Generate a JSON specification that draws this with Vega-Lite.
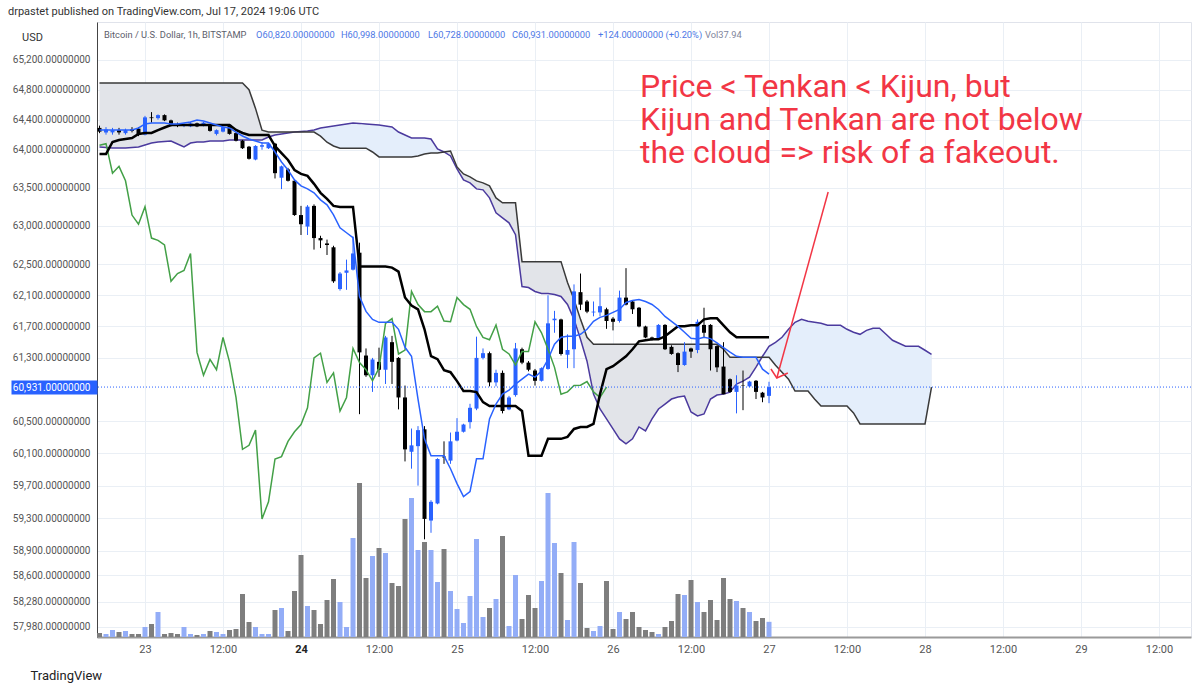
{
  "$schema": "https://vega.github.io/schema/vega-lite/v6.json",
  "width": 1094,
  "height": 615,
  "autosize": {"type": "none"},
  "padding": {"left": 97, "top": 22, "right": 9, "bottom": 52},
  "background": "white",
  "title": {
    "text": "drpastet published on TradingView.com, Jul 17, 2024 19:06 UTC",
    "anchor": "start",
    "frame": "group",
    "dx": -89,
    "offset": 5,
    "fontSize": 11,
    "fontWeight": "normal",
    "color": "#333333",
    "font": "Roboto"
  },
  "config": {"view": {"stroke": "#e0e3eb"}, "font": "Roboto"},
  "datasets": {
    "candles": [
      {"h":-7,"o":64290,"hi":64320,"lo":64220,"c":64240,"v":10},
      {"h":-6,"o":64230,"hi":64300,"lo":64200,"c":64270,"v":7.5},
      {"h":-5,"o":64230,"hi":64290,"lo":64200,"c":64260,"v":17.5},
      {"h":-4,"o":64260,"hi":64290,"lo":64200,"c":64230,"v":12.5},
      {"h":-3,"o":64220,"hi":64280,"lo":64200,"c":64260,"v":15},
      {"h":-2,"o":64270,"hi":64300,"lo":64230,"c":64250,"v":7.5},
      {"h":-1,"o":64280,"hi":64300,"lo":64180,"c":64200,"v":7.5},
      {"h":0,"o":64200,"hi":64450,"lo":64190,"c":64430,"v":25},
      {"h":1,"o":64430,"hi":64500,"lo":64360,"c":64420,"v":32.5},
      {"h":2,"o":64420,"hi":64470,"lo":64400,"c":64460,"v":62.5},
      {"h":3,"o":64460,"hi":64470,"lo":64380,"c":64390,"v":7.5},
      {"h":4,"o":64390,"hi":64400,"lo":64310,"c":64320,"v":10},
      {"h":5,"o":64340,"hi":64360,"lo":64300,"c":64320,"v":7.5},
      {"h":6,"o":64320,"hi":64350,"lo":64300,"c":64340,"v":25},
      {"h":7,"o":64310,"hi":64370,"lo":64300,"c":64350,"v":7.5},
      {"h":8,"o":64350,"hi":64360,"lo":64300,"c":64310,"v":5},
      {"h":9,"o":64320,"hi":64370,"lo":64310,"c":64360,"v":7.5},
      {"h":10,"o":64320,"hi":64340,"lo":64240,"c":64250,"v":15},
      {"h":11,"o":64210,"hi":64270,"lo":64190,"c":64260,"v":12.5},
      {"h":12,"o":64240,"hi":64310,"lo":64230,"c":64300,"v":7.5},
      {"h":13,"o":64330,"hi":64340,"lo":64200,"c":64210,"v":17.5},
      {"h":14,"o":64220,"hi":64230,"lo":64110,"c":64120,"v":20},
      {"h":15,"o":64120,"hi":64130,"lo":64010,"c":64020,"v":107.5},
      {"h":16,"o":64040,"hi":64050,"lo":63870,"c":63880,"v":37.5},
      {"h":17,"o":63870,"hi":64060,"lo":63860,"c":64050,"v":25},
      {"h":18,"o":64040,"hi":64100,"lo":64000,"c":64060,"v":7.5},
      {"h":19,"o":64020,"hi":64090,"lo":64010,"c":64080,"v":7.5},
      {"h":20,"o":64080,"hi":64090,"lo":63620,"c":63690,"v":67.5},
      {"h":21,"o":63630,"hi":63790,"lo":63480,"c":63780,"v":72.5},
      {"h":22,"o":63740,"hi":63760,"lo":63580,"c":63590,"v":15},
      {"h":23,"o":63590,"hi":63600,"lo":63130,"c":63140,"v":115},
      {"h":24,"o":63140,"hi":63260,"lo":62880,"c":63020,"v":205},
      {"h":25,"o":62990,"hi":63270,"lo":62880,"c":63250,"v":77.5},
      {"h":26,"o":63260,"hi":63280,"lo":62690,"c":62840,"v":67.5},
      {"h":27,"o":62840,"hi":62870,"lo":62710,"c":62810,"v":32.5},
      {"h":28,"o":62770,"hi":62820,"lo":62620,"c":62750,"v":92.5},
      {"h":29,"o":62720,"hi":62740,"lo":62260,"c":62280,"v":145},
      {"h":30,"o":62180,"hi":62400,"lo":62160,"c":62380,"v":87.5},
      {"h":31,"o":62390,"hi":62560,"lo":62170,"c":62420,"v":25},
      {"h":32,"o":62430,"hi":62860,"lo":62420,"c":62640,"v":247.5},
      {"h":33,"o":62650,"hi":62780,"lo":60590,"c":61370,"v":385},
      {"h":34,"o":61330,"hi":61420,"lo":61060,"c":61080,"v":147.5},
      {"h":35,"o":61080,"hi":61300,"lo":60870,"c":61280,"v":202.5},
      {"h":36,"o":61250,"hi":61430,"lo":61060,"c":61150,"v":222.5},
      {"h":37,"o":61150,"hi":61580,"lo":60970,"c":61560,"v":210},
      {"h":38,"o":61500,"hi":61580,"lo":60970,"c":61250,"v":135},
      {"h":39,"o":61300,"hi":61310,"lo":60650,"c":60800,"v":127.5},
      {"h":40,"o":60800,"hi":60950,"lo":60000,"c":60150,"v":295},
      {"h":41,"o":60120,"hi":60410,"lo":59910,"c":60200,"v":347.5},
      {"h":42,"o":60190,"hi":60440,"lo":59700,"c":60390,"v":217.5},
      {"h":43,"o":60400,"hi":60440,"lo":59040,"c":59290,"v":237.5},
      {"h":44,"o":59270,"hi":59520,"lo":59120,"c":59500,"v":217.5},
      {"h":45,"o":59480,"hi":60040,"lo":59470,"c":60030,"v":137.5},
      {"h":46,"o":60060,"hi":60250,"lo":59970,"c":60050,"v":220},
      {"h":47,"o":60010,"hi":60360,"lo":59970,"c":60250,"v":115},
      {"h":48,"o":60260,"hi":60540,"lo":60250,"c":60370,"v":70},
      {"h":49,"o":60370,"hi":60470,"lo":60360,"c":60460,"v":35},
      {"h":50,"o":60490,"hi":60720,"lo":60410,"c":60670,"v":102.5},
      {"h":51,"o":60660,"hi":61570,"lo":60640,"c":61300,"v":245},
      {"h":52,"o":61300,"hi":61420,"lo":61280,"c":61360,"v":50},
      {"h":53,"o":61360,"hi":61380,"lo":60940,"c":60990,"v":72.5},
      {"h":54,"o":60990,"hi":61150,"lo":60940,"c":61110,"v":95},
      {"h":55,"o":61110,"hi":61140,"lo":60600,"c":60630,"v":252.5},
      {"h":56,"o":60650,"hi":60820,"lo":60640,"c":60800,"v":27.5},
      {"h":57,"o":60830,"hi":61490,"lo":60810,"c":61420,"v":155},
      {"h":58,"o":61410,"hi":61430,"lo":61220,"c":61240,"v":45},
      {"h":59,"o":61240,"hi":61260,"lo":61130,"c":61150,"v":105},
      {"h":60,"o":61140,"hi":61160,"lo":60950,"c":61010,"v":72.5},
      {"h":61,"o":61010,"hi":61180,"lo":61000,"c":61170,"v":140},
      {"h":62,"o":61160,"hi":62100,"lo":61150,"c":61740,"v":360},
      {"h":63,"o":61780,"hi":61900,"lo":61620,"c":61800,"v":235},
      {"h":64,"o":61790,"hi":61800,"lo":61330,"c":61350,"v":160},
      {"h":65,"o":61340,"hi":61600,"lo":61170,"c":61400,"v":42.5},
      {"h":66,"o":61410,"hi":62240,"lo":61170,"c":62150,"v":237.5},
      {"h":67,"o":62140,"hi":62380,"lo":61910,"c":61980,"v":135},
      {"h":68,"o":62020,"hi":62040,"lo":61870,"c":61890,"v":22.5},
      {"h":69,"o":61880,"hi":62020,"lo":61830,"c":61890,"v":15},
      {"h":70,"o":61880,"hi":62200,"lo":61830,"c":61960,"v":27.5},
      {"h":71,"o":61920,"hi":61940,"lo":61670,"c":61770,"v":140},
      {"h":72,"o":61800,"hi":61820,"lo":61650,"c":61760,"v":20},
      {"h":73,"o":61770,"hi":62160,"lo":61750,"c":62070,"v":62.5},
      {"h":74,"o":62070,"hi":62450,"lo":61970,"c":61980,"v":45},
      {"h":75,"o":62020,"hi":62030,"lo":61860,"c":61920,"v":62.5},
      {"h":76,"o":61940,"hi":61950,"lo":61690,"c":61700,"v":25},
      {"h":77,"o":61700,"hi":61710,"lo":61550,"c":61560,"v":17.5},
      {"h":78,"o":61560,"hi":61570,"lo":61520,"c":61530,"v":12.5},
      {"h":79,"o":61540,"hi":61730,"lo":61530,"c":61720,"v":7.5},
      {"h":80,"o":61720,"hi":61730,"lo":61400,"c":61410,"v":25},
      {"h":81,"o":61440,"hi":61460,"lo":61340,"c":61350,"v":40},
      {"h":82,"o":61360,"hi":61370,"lo":61120,"c":61210,"v":107.5},
      {"h":83,"o":61210,"hi":61500,"lo":61200,"c":61380,"v":105},
      {"h":84,"o":61420,"hi":61430,"lo":61300,"c":61380,"v":142.5},
      {"h":85,"o":61400,"hi":61790,"lo":61360,"c":61760,"v":87.5},
      {"h":86,"o":61720,"hi":61940,"lo":61560,"c":61620,"v":62.5},
      {"h":87,"o":61720,"hi":61730,"lo":61140,"c":61410,"v":92.5},
      {"h":88,"o":61450,"hi":61460,"lo":61120,"c":61180,"v":42.5},
      {"h":89,"o":61190,"hi":61500,"lo":60840,"c":60840,"v":147.5},
      {"h":90,"o":61030,"hi":61040,"lo":60860,"c":60870,"v":95},
      {"h":91,"o":60870,"hi":61080,"lo":60600,"c":60950,"v":90},
      {"h":92,"o":60955,"hi":61140,"lo":60640,"c":60950,"v":72.5},
      {"h":93,"o":60940,"hi":61010,"lo":60930,"c":61000,"v":62.5},
      {"h":94,"o":61010,"hi":61020,"lo":60780,"c":60870,"v":40},
      {"h":95,"o":60860,"hi":60870,"lo":60740,"c":60800,"v":47.5},
      {"h":96,"o":60820,"hi":60998,"lo":60728,"c":60931,"v":37.94}
    ],
    "ichi": [
      {"h":-7,"a":64036,"b":64890,"t":64262,"k":63943,"ch":64060,"seg":"g1"},
      {"h":-6,"a":64030,"b":64890,"t":64262,"k":63943,"ch":64080,"seg":"g1"},
      {"h":-5,"a":64023,"b":64890,"t":64262,"k":64102,"ch":63690,"seg":"g1"},
      {"h":-4,"a":64023,"b":64890,"t":64262,"k":64129,"ch":63780,"seg":"g1"},
      {"h":-3,"a":64023,"b":64890,"t":64262,"k":64142,"ch":63590,"seg":"g1"},
      {"h":-2,"a":64030,"b":64890,"t":64262,"k":64156,"ch":63140,"seg":"g1"},
      {"h":-1,"a":64036,"b":64890,"t":64289,"k":64209,"ch":63020,"seg":"g1"},
      {"h":0,"a":64063,"b":64890,"t":64342,"k":64222,"ch":63250,"seg":"g1"},
      {"h":1,"a":64089,"b":64890,"t":64355,"k":64222,"ch":62840,"seg":"g1"},
      {"h":2,"a":64102,"b":64890,"t":64355,"k":64260,"ch":62810,"seg":"g1"},
      {"h":3,"a":64110,"b":64890,"t":64355,"k":64295,"ch":62750,"seg":"g1"},
      {"h":4,"a":64116,"b":64890,"t":64342,"k":64328,"ch":62280,"seg":"g1"},
      {"h":5,"a":64076,"b":64890,"t":64342,"k":64328,"ch":62380,"seg":"g1"},
      {"h":6,"a":64036,"b":64890,"t":64355,"k":64328,"ch":62420,"seg":"g1"},
      {"h":7,"a":64089,"b":64890,"t":64368,"k":64328,"ch":62640,"seg":"g1"},
      {"h":8,"a":64102,"b":64890,"t":64395,"k":64328,"ch":61370,"seg":"g1"},
      {"h":9,"a":64102,"b":64890,"t":64382,"k":64328,"ch":61080,"seg":"g1"},
      {"h":10,"a":64116,"b":64890,"t":64355,"k":64328,"ch":61280,"seg":"g1"},
      {"h":11,"a":64116,"b":64890,"t":64328,"k":64328,"ch":61150,"seg":"g1"},
      {"h":12,"a":64116,"b":64890,"t":64302,"k":64328,"ch":61560,"seg":"g1"},
      {"h":13,"a":64129,"b":64890,"t":64289,"k":64328,"ch":61250,"seg":"g1"},
      {"h":14,"a":64129,"b":64890,"t":64235,"k":64262,"ch":60800,"seg":"g1"},
      {"h":15,"a":64129,"b":64890,"t":64182,"k":64222,"ch":60150,"seg":"g1"},
      {"h":16,"a":64129,"b":64800,"t":64142,"k":64195,"ch":60200,"seg":"g1"},
      {"h":17,"a":64129,"b":64550,"t":64116,"k":64195,"ch":60390,"seg":"g1"},
      {"h":18,"a":64129,"b":64260,"t":64089,"k":64195,"ch":59290,"seg":"g1"},
      {"h":19,"a":64169,"b":64235,"t":64089,"k":64195,"ch":59500,"seg":"g1"},
      {"h":20,"a":64195,"b":64235,"t":63970,"k":64049,"ch":60030,"seg":"g1"},
      {"h":21,"a":64210,"b":64235,"t":63838,"k":63956,"ch":60060,"seg":"g1"},
      {"h":22,"a":64222,"b":64235,"t":63732,"k":63864,"ch":60250,"seg":"g1"},
      {"h":23,"a":64235,"b":64235,"t":63601,"k":63732,"ch":60370,"seg":"g1"},
      {"h":24,"a":64242,"b":64235,"t":63522,"k":63680,"ch":60460,"seg":"u1"},
      {"h":25,"a":64249,"b":64235,"t":63483,"k":63654,"ch":60670,"seg":"u1"},
      {"h":26,"a":64262,"b":64235,"t":63431,"k":63549,"ch":61300,"seg":"u1"},
      {"h":27,"a":64289,"b":64180,"t":63339,"k":63431,"ch":61360,"seg":"u1"},
      {"h":28,"a":64302,"b":64100,"t":63274,"k":63352,"ch":60990,"seg":"u1"},
      {"h":29,"a":64315,"b":64050,"t":63143,"k":63260,"ch":61110,"seg":"u1"},
      {"h":30,"a":64328,"b":64020,"t":62974,"k":63247,"ch":60630,"seg":"u1"},
      {"h":31,"a":64342,"b":64020,"t":62909,"k":63247,"ch":60800,"seg":"u1"},
      {"h":32,"a":64355,"b":64020,"t":62844,"k":63247,"ch":61420,"seg":"u1"},
      {"h":33,"a":64350,"b":64020,"t":62084,"k":62470,"ch":61240,"seg":"u1"},
      {"h":34,"a":64342,"b":64020,"t":61893,"k":62470,"ch":61150,"seg":"u1"},
      {"h":35,"a":64335,"b":63970,"t":61791,"k":62470,"ch":61010,"seg":"u1"},
      {"h":36,"a":64328,"b":63904,"t":61753,"k":62470,"ch":61170,"seg":"u1"},
      {"h":37,"a":64315,"b":63904,"t":61753,"k":62470,"ch":61740,"seg":"u1"},
      {"h":38,"a":64302,"b":63904,"t":61753,"k":62457,"ch":61800,"seg":"u1"},
      {"h":39,"a":64235,"b":63904,"t":61664,"k":62405,"ch":61350,"seg":"u1"},
      {"h":40,"a":64195,"b":63904,"t":61435,"k":62072,"ch":61400,"seg":"u1"},
      {"h":41,"a":64156,"b":63904,"t":61321,"k":61969,"ch":62150,"seg":"u1"},
      {"h":42,"a":64156,"b":63917,"t":60780,"k":61918,"ch":61980,"seg":"u1"},
      {"h":43,"a":64156,"b":63943,"t":60281,"k":61664,"ch":61890,"seg":"u1"},
      {"h":44,"a":64142,"b":63956,"t":60070,"k":61321,"ch":61890,"seg":"u1"},
      {"h":45,"a":64010,"b":63956,"t":60070,"k":61283,"ch":61960,"seg":"u1"},
      {"h":46,"a":63970,"b":63970,"t":60070,"k":61144,"ch":61770,"seg":"u1"},
      {"h":47,"a":63917,"b":63983,"t":59909,"k":61119,"ch":61760,"seg":"g2"},
      {"h":48,"a":63745,"b":63772,"t":59725,"k":61006,"ch":62070,"seg":"g2"},
      {"h":49,"a":63601,"b":63680,"t":59565,"k":60880,"ch":61980,"seg":"g2"},
      {"h":50,"a":63562,"b":63641,"t":59626,"k":60880,"ch":61920,"seg":"g2"},
      {"h":51,"a":63483,"b":63588,"t":60033,"k":60867,"ch":61700,"seg":"g2"},
      {"h":52,"a":63470,"b":63562,"t":60033,"k":60742,"ch":61560,"seg":"g2"},
      {"h":53,"a":63365,"b":63522,"t":60530,"k":60693,"ch":61530,"seg":"g2"},
      {"h":54,"a":63169,"b":63365,"t":60717,"k":60693,"ch":61720,"seg":"g2"},
      {"h":55,"a":63104,"b":63300,"t":60842,"k":60693,"ch":61410,"seg":"g2"},
      {"h":56,"a":63039,"b":63300,"t":60892,"k":60693,"ch":61350,"seg":"g2"},
      {"h":57,"a":62883,"b":63300,"t":60968,"k":60693,"ch":61210,"seg":"g2"},
      {"h":58,"a":62213,"b":62534,"t":61031,"k":60630,"ch":61380,"seg":"g2"},
      {"h":59,"a":62200,"b":62534,"t":61094,"k":60070,"ch":61380,"seg":"g2"},
      {"h":60,"a":62149,"b":62534,"t":61056,"k":60070,"ch":61760,"seg":"g2"},
      {"h":61,"a":62123,"b":62534,"t":61132,"k":60070,"ch":61620,"seg":"g2"},
      {"h":62,"a":62123,"b":62534,"t":61283,"k":60281,"ch":61410,"seg":"g2"},
      {"h":63,"a":62110,"b":62534,"t":61473,"k":60281,"ch":61180,"seg":"g2"},
      {"h":64,"a":62084,"b":62534,"t":61562,"k":60281,"ch":60840,"seg":"g2"},
      {"h":65,"a":61982,"b":62265,"t":61575,"k":60306,"ch":60870,"seg":"g2"},
      {"h":66,"a":61791,"b":62046,"t":61575,"k":60405,"ch":60950,"seg":"g2"},
      {"h":67,"a":61536,"b":61791,"t":61600,"k":60430,"ch":60955,"seg":"g2"},
      {"h":68,"a":61258,"b":61562,"t":61664,"k":60430,"ch":61000,"seg":"g2"},
      {"h":69,"a":60842,"b":61473,"t":61766,"k":60468,"ch":60870,"seg":"g2"},
      {"h":70,"a":60655,"b":61473,"t":61817,"k":60842,"ch":60800,"seg":"g2"},
      {"h":71,"a":60530,"b":61473,"t":61842,"k":61157,"ch":60931,"seg":"g2"},
      {"h":72,"a":60405,"b":61473,"t":61880,"k":61195,"seg":"g2"},
      {"h":73,"a":60281,"b":61473,"t":61918,"k":61258,"seg":"g2"},
      {"h":74,"a":60219,"b":61473,"t":62007,"k":61321,"seg":"g2"},
      {"h":75,"a":60281,"b":61473,"t":62033,"k":61410,"seg":"g2"},
      {"h":76,"a":60430,"b":61473,"t":62046,"k":61511,"seg":"g2"},
      {"h":77,"a":60380,"b":61473,"t":62020,"k":61524,"seg":"g2"},
      {"h":78,"a":60530,"b":61473,"t":61982,"k":61536,"seg":"g2"},
      {"h":79,"a":60655,"b":61473,"t":61918,"k":61536,"seg":"g2"},
      {"h":80,"a":60717,"b":61473,"t":61829,"k":61575,"seg":"g2"},
      {"h":81,"a":60780,"b":61473,"t":61766,"k":61638,"seg":"g2"},
      {"h":82,"a":60805,"b":61473,"t":61702,"k":61702,"seg":"g2"},
      {"h":83,"a":60817,"b":61473,"t":61626,"k":61702,"seg":"g2"},
      {"h":84,"a":60617,"b":61473,"t":61550,"k":61715,"seg":"g2"},
      {"h":85,"a":60568,"b":61473,"t":61540,"k":61715,"seg":"g2"},
      {"h":86,"a":60592,"b":61473,"t":61562,"k":61791,"seg":"g2"},
      {"h":87,"a":60780,"b":61473,"t":61545,"k":61804,"seg":"g2"},
      {"h":88,"a":60830,"b":61473,"t":61490,"k":61804,"seg":"g2"},
      {"h":89,"a":60842,"b":61410,"t":61430,"k":61715,"seg":"g2"},
      {"h":90,"a":60867,"b":61308,"t":61372,"k":61626,"seg":"g2"},
      {"h":91,"a":60968,"b":61308,"t":61320,"k":61562,"seg":"g2"},
      {"h":92,"a":61006,"b":61308,"t":61308,"k":61562,"seg":"g2"},
      {"h":93,"a":61056,"b":61308,"t":61308,"k":61562,"seg":"g2"},
      {"h":94,"a":61182,"b":61308,"t":61308,"k":61562,"seg":"g2"},
      {"h":95,"a":61321,"b":61308,"t":61157,"k":61562,"seg":"u2"},
      {"h":96,"a":61448,"b":61308,"t":61094,"k":61562,"seg":"u2"},
      {"h":97,"a":61498,"b":61207,"seg":"u2"},
      {"h":98,"a":61562,"b":61119,"seg":"u2"},
      {"h":99,"a":61664,"b":61031,"seg":"u2"},
      {"h":100,"a":61753,"b":60880,"seg":"u2"},
      {"h":101,"a":61791,"b":60880,"seg":"u2"},
      {"h":102,"a":61766,"b":60880,"seg":"u2"},
      {"h":103,"a":61753,"b":60780,"seg":"u2"},
      {"h":104,"a":61740,"b":60693,"seg":"u2"},
      {"h":105,"a":61715,"b":60693,"seg":"u2"},
      {"h":106,"a":61715,"b":60693,"seg":"u2"},
      {"h":107,"a":61715,"b":60693,"seg":"u2"},
      {"h":108,"a":61664,"b":60693,"seg":"u2"},
      {"h":109,"a":61626,"b":60605,"seg":"u2"},
      {"h":110,"a":61600,"b":60468,"seg":"u2"},
      {"h":111,"a":61651,"b":60468,"seg":"u2"},
      {"h":112,"a":61677,"b":60468,"seg":"u2"},
      {"h":113,"a":61677,"b":60468,"seg":"u2"},
      {"h":114,"a":61600,"b":60468,"seg":"u2"},
      {"h":115,"a":61524,"b":60468,"seg":"u2"},
      {"h":116,"a":61486,"b":60468,"seg":"u2"},
      {"h":117,"a":61448,"b":60468,"seg":"u2"},
      {"h":118,"a":61448,"b":60468,"seg":"u2"},
      {"h":119,"a":61448,"b":60468,"seg":"u2"},
      {"h":120,"a":61397,"b":60468,"seg":"u2"},
      {"h":121,"a":61346,"b":60930,"seg":"u2"}
    ],
    "arrow": [
      {"s":"shaft","i":0,"h":105.1,"p":63442},
      {"s":"shaft","i":1,"h":97.2,"p":61045},
      {"s":"head","i":0,"h":96.3,"p":61159},
      {"s":"head","i":1,"h":97.2,"p":61045},
      {"s":"head","i":2,"h":98.9,"p":61108}
    ],
    "header": [
      {"h":-6.31,"txt":"Bitcoin / U.S. Dollar, 1h, BITSTAMP","kind":"name"},
      {"h":17.08,"txt":"O60,820.00000000","kind":"val"},
      {"h":30.15,"txt":"H60,998.00000000","kind":"val"},
      {"h":43.54,"txt":"L60,728.00000000","kind":"val"},
      {"h":56.46,"txt":"C60,931.00000000","kind":"val"},
      {"h":69.69,"txt":"+124.00000000 (+0.20%)","kind":"val"},
      {"h":86.15,"txt":"Vol37.94","kind":"vol"}
    ],
    "note": [
      {"h":76.15,"p":64702,"txt":"Price < Tenkan < Kijun, but\nKijun and Tenkan are not below\nthe cloud => risk of a fakeout."}
    ],
    "last": [{"price":60931}]
  },
  "layer": [
    {
      "data": {"name": "candles"},
      "mark": {"type": "bar", "size": 5},
      "encoding": {
        "x": {
          "field": "h", "type": "quantitative",
          "scale": {"domain": [-7.385, 160.92], "nice": false, "zero": false, "padding": 0},
          "axis": {
            "orient": "bottom",
            "values": [0, 12, 24, 36, 48, 60, 72, 84, 96, 108, 120, 132, 144, 156],
            "labelExpr": "datum.value % 24 === 0 ? format(23 + datum.value / 24, 'd') : '12:00'",
            "labelFontSize": 11,
            "labelColor": {"condition": {"test": "datum.value === 24", "value": "#222222"}, "value": "#555555"},
            "labelFontWeight": {"condition": {"test": "datum.value === 24", "value": "bold"}, "value": "normal"},
            "labelPadding": 6,
            "ticks": false,
            "domainColor": "#9a9a9a",
            "domainWidth": 2,
            "grid": true,
            "gridColor": "#eaeff5",
            "title": "TradingView",
            "titleX": -67,
            "titleY": 38,
            "titleAlign": "left",
            "titleBaseline": "middle",
            "titleFontSize": 13,
            "titleFontWeight": "normal",
            "titleColor": "#222222"
          }
        },
        "y": {
          "field": "v", "type": "quantitative",
          "scale": {"domain": [0, 1537.5], "nice": false, "zero": true},
          "axis": null
        },
        "color": {"condition": {"test": "datum.c >= datum.o", "value": "#93adf7"}, "value": "#7e7e7e"}
      }
    },
    {
      "layer": [
        {
          "data": {"name": "ichi"},
          "mark": {"type": "area", "color": "#e2e4e9"},
          "encoding": {
            "x": {"field": "h", "type": "quantitative", "scale": {"domain": [-7.385, 160.92], "nice": false, "zero": false, "padding": 0}},
            "y": {
              "field": "a", "type": "quantitative",
              "scale": {"type": "log", "domain": [57858, 65715], "nice": false, "zero": false},
              "axis": {
                "orient": "left",
                "values": [57980, 58280, 58600, 58900, 59300, 59700, 60100, 60500, 61300, 61700, 62100, 62500, 63000, 63500, 64000, 64400, 64800, 65200],
                "format": ",.8f",
                "labelFontSize": 10,
                "labelColor": "#555555",
                "labelPadding": 7,
                "ticks": false,
                "domainColor": "#444444",
                "grid": true,
                "gridColor": "#eaeff5",
                "title": "USD",
                "titleAngle": 0,
                "titleX": -65,
                "titleY": 15,
                "titleAlign": "center",
                "titleBaseline": "middle",
                "titleFontSize": 11,
                "titleFontWeight": "normal",
                "titleColor": "#333333"
              }
            },
            "y2": {"field": "b"}
          }
        },
        {
          "data": {"name": "ichi"},
          "transform": [{"filter": {"field": "seg", "oneOf": ["u1", "u2"]}}],
          "mark": {"type": "area", "color": "#e4eefb"},
          "encoding": {
            "x": {"field": "h", "type": "quantitative"},
            "y": {"field": "a", "type": "quantitative"},
            "y2": {"field": "b"},
            "detail": {"field": "seg"}
          }
        },
        {
          "data": {"name": "ichi"},
          "mark": {"type": "line", "color": "#4b3a9e", "strokeWidth": 1.5},
          "encoding": {
            "x": {"field": "h", "type": "quantitative"},
            "y": {"field": "a", "type": "quantitative"}
          }
        },
        {
          "data": {"name": "ichi"},
          "mark": {"type": "line", "color": "#3a3a3a", "strokeWidth": 1.5},
          "encoding": {
            "x": {"field": "h", "type": "quantitative"},
            "y": {"field": "b", "type": "quantitative"}
          }
        },
        {
          "data": {"name": "candles"},
          "mark": {"type": "rule", "strokeWidth": 1},
          "encoding": {
            "x": {"field": "h", "type": "quantitative"},
            "y": {"field": "lo", "type": "quantitative"},
            "y2": {"field": "hi"},
            "color": {"condition": {"test": "datum.c >= datum.o", "value": "#2962ff"}, "value": "#000000"}
          }
        },
        {
          "data": {"name": "candles"},
          "mark": {"type": "bar", "size": 4},
          "encoding": {
            "x": {"field": "h", "type": "quantitative"},
            "y": {"field": "o", "type": "quantitative"},
            "y2": {"field": "c"},
            "color": {"condition": {"test": "datum.c >= datum.o", "value": "#2962ff"}, "value": "#000000"}
          }
        },
        {
          "data": {"name": "ichi"},
          "transform": [{"filter": "isValid(datum.ch)"}],
          "mark": {"type": "line", "color": "#43a047", "strokeWidth": 1.5},
          "encoding": {
            "x": {"field": "h", "type": "quantitative"},
            "y": {"field": "ch", "type": "quantitative"}
          }
        },
        {
          "data": {"name": "ichi"},
          "transform": [{"filter": "isValid(datum.k)"}],
          "mark": {"type": "line", "color": "#000000", "strokeWidth": 2.5},
          "encoding": {
            "x": {"field": "h", "type": "quantitative"},
            "y": {"field": "k", "type": "quantitative"}
          }
        },
        {
          "data": {"name": "ichi"},
          "transform": [{"filter": "isValid(datum.t)"}],
          "mark": {"type": "line", "color": "#2962ff", "strokeWidth": 1.5},
          "encoding": {
            "x": {"field": "h", "type": "quantitative"},
            "y": {"field": "t", "type": "quantitative"}
          }
        },
        {
          "data": {"name": "header"},
          "mark": {"type": "text", "align": "left", "baseline": "middle", "fontSize": 9.3, "font": "Roboto"},
          "encoding": {
            "x": {"field": "h", "type": "quantitative"},
            "y": {"datum": 65538, "type": "quantitative"},
            "text": {"field": "txt"},
            "color": {"field": "kind", "type": "nominal", "scale": {"domain": ["name", "val", "vol"], "range": ["#5d606b", "#4e78e6", "#80859c"]}, "legend": null}
          }
        },
        {
          "data": {"name": "note"},
          "mark": {"type": "text", "align": "left", "baseline": "alphabetic", "fontSize": 32, "lineHeight": 33, "lineBreak": "\n", "color": "#f23645", "font": "Roboto"},
          "encoding": {
            "x": {"field": "h", "type": "quantitative"},
            "y": {"field": "p", "type": "quantitative"},
            "text": {"field": "txt"}
          }
        },
        {
          "data": {"name": "arrow"},
          "mark": {"type": "line", "color": "#f23645", "strokeWidth": 1.5},
          "encoding": {
            "x": {"field": "h", "type": "quantitative"},
            "y": {"field": "p", "type": "quantitative"},
            "detail": {"field": "s"},
            "order": {"field": "i"}
          }
        }
      ]
    },
    {
      "data": {"name": "last"},
      "mark": {"type": "rule", "color": "#2962ff", "strokeWidth": 1, "strokeDash": [1, 2]},
      "encoding": {
        "y": {
          "field": "price", "type": "quantitative",
          "scale": {"type": "log", "domain": [57858, 65715], "nice": false, "zero": false},
          "axis": {
            "orient": "left",
            "values": [60931],
            "format": ",.8f",
            "tickSize": 86,
            "tickWidth": 14,
            "tickColor": "#2962ff",
            "labelColor": "#ffffff",
            "labelPadding": -79,
            "labelFontSize": 10,
            "grid": false,
            "domain": false,
            "title": null
          }
        }
      }
    }
  ],
  "resolve": {"scale": {"y": "independent"}, "axis": {"y": "independent"}}
}
